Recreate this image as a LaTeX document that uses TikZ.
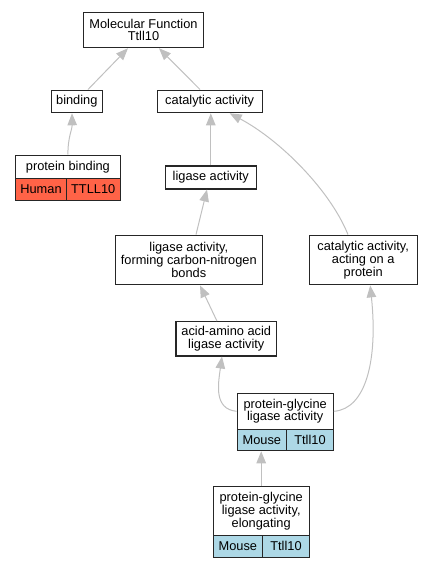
\documentclass[tikz,border=0pt]{standalone}
\usepackage{fontspec}
\setmainfont{Liberation Sans}
\usetikzlibrary{arrows.meta}
\definecolor{edgegray}{HTML}{C0C0C0}
\definecolor{humanred}{HTML}{FF6347}
\definecolor{mouseblue}{HTML}{ADD8E6}
\tikzset{
  box/.style={draw=black!85, line width=1.1pt, fill=white, inner sep=0pt, align=center,
    font=\fontsize{12.8}{12.7}\selectfont},
  hcell/.style={box, fill=humanred},
  mcell/.style={box, fill=mouseblue},
  edge/.style={draw=edgegray, line width=1pt, -{Triangle[length=12pt,width=9.5pt,fill=edgegray]}},
}
\begin{document}
\begin{tikzpicture}[x=1pt,y=-1pt]
\useasboundingbox (0,0) rectangle (432,568);
% nodes
\node[box, minimum width=120.4pt, minimum height=35.4pt] (mf) at (143.5,30) {Molecular Function\\Ttll10};
\node[box, minimum width=51pt, minimum height=22.7pt] (bind) at (76.8,101.4) {binding};
\node[box, minimum width=105.3pt, minimum height=22.7pt] (cat) at (209.7,101.4) {catalytic activity};
\node[box, minimum width=104.3pt, minimum height=23.3pt] (pb) at (67.9,166.7) {protein binding};
\node[hcell, minimum width=50.6pt, minimum height=21.7pt] (pbh) at (41,189.2) {Human};
\node[hcell, minimum width=53.7pt, minimum height=21.7pt] (pbt) at (93.2,189.2) {TTLL10};
\node[box, minimum width=91pt, minimum height=23pt] (lig) at (210.8,177.5) {ligase activity};
\node[box, minimum width=147pt, minimum height=49.7pt] (form) at (188.8,260) {ligase activity,\\forming carbon-nitrogen\\bonds};
\node[box, minimum width=108.3pt, minimum height=49.7pt] (act) at (363.2,260) {catalytic activity,\\acting on a\\protein};
\node[box, minimum width=100.7pt, minimum height=34.3pt] (acid) at (226.3,338.8) {acid-amino acid\\ligase activity};
\node[box, minimum width=96.3pt, minimum height=36pt] (pg) at (285.2,411.3) {protein-glycine\\ligase activity};
\node[mcell, minimum width=49.7pt, minimum height=21.4pt] (pgm) at (261.9,440) {Mouse};
\node[mcell, minimum width=46.6pt, minimum height=21.4pt] (pgt) at (310,440) {Ttll10};
\node[box, minimum width=96.3pt, minimum height=48.6pt] (el) at (261.2,511) {protein-glycine\\ligase activity,\\elongating};
\node[mcell, minimum width=49.7pt, minimum height=22pt] (elm) at (237.9,546.3) {Mouse};
\node[mcell, minimum width=46.6pt, minimum height=22pt] (elt) at (286,546.3) {Ttll10};
% edges
\draw[edge] ([xshift=11.2pt]bind.north) -- ([xshift=-15.5pt]mf.south);
\draw[edge] ([xshift=-9.7pt]cat.north) -- ([xshift=15.5pt]mf.south);
\draw[edge] (pb.north) .. controls ([yshift=18pt]pb.north) and ([xshift=-4.5pt,yshift=-16pt]bind.south) .. ([xshift=-4.8pt]bind.south);
\draw[edge] (lig.north) -- (lig.north |- cat.south);
\draw[edge] ([xshift=-15.2pt]act.north) .. controls (330,190) and (280,140) .. ([xshift=20pt]cat.south);
\draw[edge] ([xshift=7.2pt]form.north) -- ([xshift=-3.8pt]lig.south);
\draw[edge] ([xshift=-9.3pt]acid.north) -- ([xshift=11.2pt]form.south);
\draw[edge] (pg.west) .. controls (214,409) and (218,385) .. ([xshift=-4.3pt]acid.south);
\draw[edge] (pg.east) .. controls (366,409) and (378,360) .. ([xshift=7pt]act.south);
\draw[edge] (el.north) -- (el.north |- pgm.south);
\end{tikzpicture}
\end{document}
